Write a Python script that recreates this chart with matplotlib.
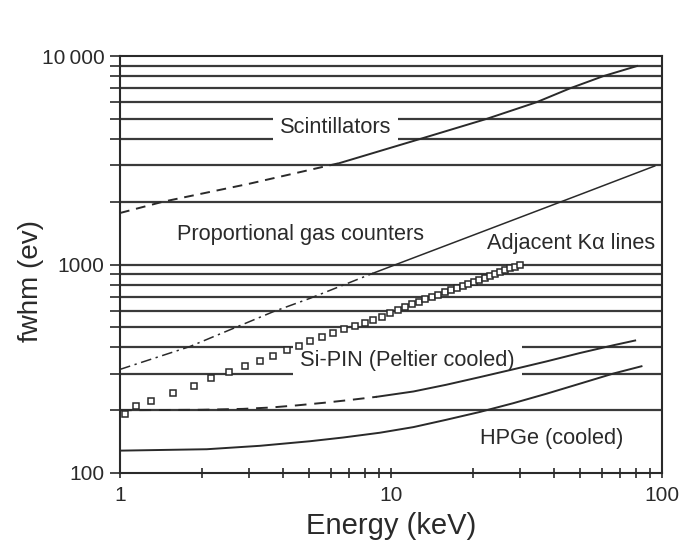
import matplotlib
matplotlib.use('Agg')
import matplotlib.pyplot as plt
from matplotlib.ticker import LogLocator, FixedLocator, NullFormatter

plt.rcParams['font.family'] = ['Liberation Sans', 'DejaVu Sans']

# Scintillators: dashed at low energy, solid above ~6.5 keV
scint_e_dash = [1.0, 1.44, 3.0, 6.48]
scint_w_dash = [1766, 2000, 2440, 3069]
scint_e = [6.48, 12.8, 22.6, 34.4, 45.8, 60.6, 80.9]
scint_w = [3069, 4000, 5000, 6000, 7000, 8000, 8955]

# Proportional gas counters: dash-dot then thin solid
prop_e_dash = [1.0, 1.81, 3.68, 5.02, 8.6]
prop_w_dash = [314, 404, 594, 688, 909]
prop_e = [8.6, 20.0, 50.0, 94.0]
prop_w = [909, 1379, 2169, 2968]

# Spacing of adjacent K-alpha lines
ka_e = [1.04, 1.15, 1.30, 1.57, 1.87, 2.17, 2.52, 2.89, 3.28, 3.68, 4.12,
        4.58, 5.02, 5.55, 6.13, 6.73, 7.37, 8.02, 8.60, 9.23, 9.92, 10.6,
        11.26, 11.92, 12.65, 13.39, 14.16, 14.96, 15.77, 16.61, 17.48,
        18.37, 19.28, 20.21, 21.18, 22.16, 23.17, 24.21, 25.27, 26.36,
        27.47, 28.61, 29.9]
ka_w = [192, 210, 221, 241, 262, 284, 305, 326, 345, 364, 390,
        408, 431, 451, 470, 488, 506, 527, 541, 563, 584, 606,
        626, 646, 662, 680, 698, 717, 735, 753, 772,
        790, 809, 827, 846, 864, 883, 901, 920, 939,
        957, 976, 1000]

# Si-PIN (Peltier cooled)
sipin_e_dash = [1.0, 2.0, 2.84, 3.58, 4.49, 5.63, 7.06, 8.86]
sipin_w_dash = [200, 201, 203, 206, 211, 217, 224, 232]
sipin_e = [8.86, 12.1, 16.0, 21.2, 28.2, 37.5, 49.7, 66.2, 79.6]
sipin_w = [232, 246, 265, 288, 314, 343, 376, 410, 432]

# HPGe (cooled)
hpge_e = [1.0, 2.09, 3.28, 5.02, 6.67, 9.1, 12.1, 16.0, 21.2, 28.2,
          37.5, 49.7, 66.2, 84.0]
hpge_w = [128, 130, 135, 142, 148, 156, 166, 180, 196, 216,
          240, 268, 300, 325]

ink = '#2a2a2a'
label_size = 15.7

fig = plt.figure(figsize=(6.81, 5.47), dpi=100)
ax = fig.add_axes([0.1762, 0.1353, 0.7959, 0.7623])
ax.set_xscale('log')
ax.set_yscale('log')
ax.set_xlim(1, 100)
ax.set_ylim(100, 10000)

# horizontal grid at every major and minor decade step
for v in list(range(200, 1000, 100)) + [1000] + list(range(2000, 10000, 1000)):
    ax.axhline(v, color='#3a3a3a', lw=1.6, zorder=0.5)

ax.plot(scint_e_dash, scint_w_dash, color=ink, lw=1.4, ls=(0, (5, 3.5)), zorder=3)
ax.plot(scint_e, scint_w, color=ink, lw=1.4, zorder=3)

ax.plot(prop_e_dash, prop_w_dash, color=ink, lw=1.1, ls=(0, (7, 3, 1.5, 3)), zorder=3)
ax.plot(prop_e, prop_w, color=ink, lw=1.1, zorder=3)

ax.plot(ka_e, ka_w, ls='none', marker='s', ms=5, mfc='white', mec=ink, mew=1.1, zorder=4)

ax.plot(sipin_e_dash, sipin_w_dash, color=ink, lw=1.4, ls=(0, (6, 4)), zorder=3)
ax.plot(sipin_e, sipin_w, color=ink, lw=1.4, zorder=3)

ax.plot(hpge_e, hpge_w, color=ink, lw=1.4, zorder=3)

box = dict(facecolor='white', edgecolor='none', pad=5)
ax.text(3.89, 4516, 'Scintillators', fontsize=label_size, color=ink, va='center',
        ha='left', bbox=box, zorder=2)
ax.text(1.62, 1400, 'Proportional gas counters', fontsize=label_size, color=ink,
        va='center', ha='left', zorder=2)
ax.text(94.3, 1268, 'Adjacent K\u03b1 lines', fontsize=label_size, color=ink,
        va='center', ha='right', zorder=2)
ax.text(4.62, 348, 'Si-PIN (Peltier cooled)', fontsize=label_size, color=ink,
        va='center', ha='left', bbox=box, zorder=2)
ax.text(21.3, 147, 'HPGe (cooled)', fontsize=label_size, color=ink, va='center',
        ha='left', zorder=2)

ax.xaxis.set_major_locator(FixedLocator([1, 10, 100]))
ax.set_xticklabels(['1', '10', '100'])
ax.xaxis.set_minor_locator(LogLocator(base=10, subs=range(2, 10)))
ax.xaxis.set_minor_formatter(NullFormatter())
ax.yaxis.set_major_locator(FixedLocator([100, 1000, 10000]))
ax.set_yticklabels(['100', '1000', '10\u2009000'])
ax.yaxis.set_minor_locator(LogLocator(base=10, subs=range(2, 10)))
ax.yaxis.set_minor_formatter(NullFormatter())

ax.tick_params(axis='x', which='both', direction='inout', length=7, width=1.2,
               color=ink, labelsize=15, labelcolor=ink, pad=6)
ax.tick_params(axis='y', which='both', direction='out', length=7, width=1.2,
               color=ink, labelsize=15, labelcolor=ink, pad=4)

for s in ax.spines.values():
    s.set_color(ink)
    s.set_linewidth(1.5)

ax.set_xlabel('Energy (keV)', fontsize=21, color=ink, labelpad=5)
ax.set_ylabel('fwhm (ev)', fontsize=20, color=ink)
ax.yaxis.set_label_coords(-0.14, 0.46)

fig.savefig('out.png', dpi=100, facecolor='white')
